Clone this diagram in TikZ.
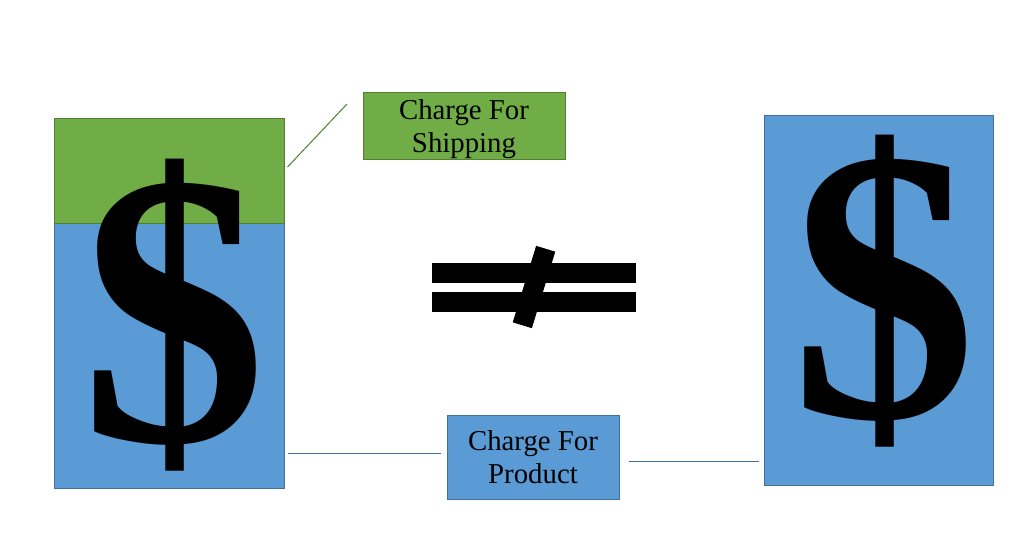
\documentclass[tikz,border=0pt]{standalone}
\usepackage{fontspec}
\setmainfont{Liberation Serif}
\definecolor{cashblue}{HTML}{5B9BD5}
\definecolor{cashgreen}{HTML}{70AD47}
\definecolor{blueline}{HTML}{41719C}
\definecolor{greenline}{HTML}{507E32}
\tikzset{part/.style={rectangle,draw,line width=.5pt,inner sep=0pt},
  tag/.style={part,align=center,font=\fontsize{14.4}{16.5}\selectfont},
  bigcash/.style={inner sep=0pt,xscale=.95,font=\fontsize{195}{195}\selectfont\bfseries},
  bar/.style={fill=black,inner sep=0pt,minimum width=102pt,minimum height=10pt},
  link/.style={line width=.5pt}}
\begin{document}
\begin{tikzpicture}[x=.5pt,y=-.5pt]
  \path[use as bounding box] (0,0) rectangle (1024,554);
  % left price: product part and shipping part
  \node[part,fill=cashblue,draw=blueline,minimum width=115pt,minimum height=132.5pt] (lbox) at (169,355.5) {};
  \node[part,fill=cashgreen,draw=greenline,minimum width=115pt,minimum height=52.5pt] (gbox) at (169,170.5) {};
  \node[bigcash] (ldollar) at (174,315) {\$};
  % right price
  \node[part,fill=cashblue,draw=blueline,minimum width=114.5pt,minimum height=185pt] (rbox) at (878.5,300) {};
  \node[bigcash] (rdollar) at (884,291) {\$};
  % not equal
  \node[bar] (eqtop) at (534,272.5) {};
  \node[bar] (eqbot) at (534,302) {};
  \node[fill=black,inner sep=0pt,minimum width=10pt,minimum height=40pt,rotate=-17] (slash) at (534,287) {};
  % labels
  \node[tag,fill=cashgreen,draw=greenline,minimum width=101pt,minimum height=33.5pt,text depth=-3pt] (ship) at (464,125.5) {Charge For\\Shipping};
  \node[tag,fill=cashblue,draw=blueline,minimum width=86pt,minimum height=42pt] (prod) at (533,457) {Charge For\\Product};
  % connectors
  \coordinate (shipend) at (347,104);
  \coordinate (lend) at (288,453);
  \coordinate (rend) at (759,461);
  \draw[link,draw=greenline] ([xshift=1.5pt]gbox.east |- 0,167) -- (shipend);
  \draw[link,draw=blueline] (lend) -- ([xshift=-3pt]prod.west |- lend);
  \draw[link,draw=blueline] ([xshift=4.5pt]prod.east |- rend) -- (rend);
\end{tikzpicture}
\end{document}
